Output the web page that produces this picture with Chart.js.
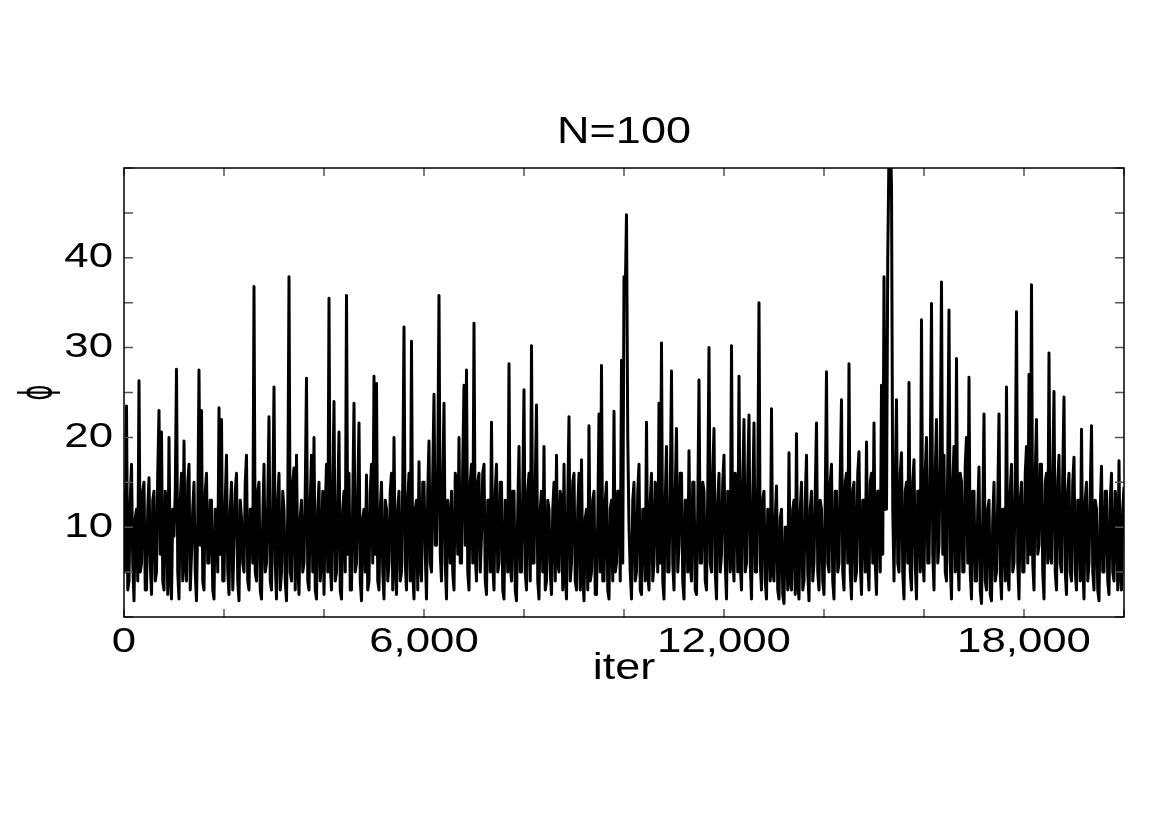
<!DOCTYPE html>
<html>
<head>
<meta charset="utf-8">
<title>N=100</title>
<script src="https://cdn.jsdelivr.net/npm/chart.js@4.4.1/dist/chart.umd.min.js"></script>
<style>
    html, body { margin: 0; padding: 0; background: #fff; }
    canvas { display: block; }
</style>
</head>
<body>
<canvas id="chart" width="1170" height="827"></canvas>
<script>
const ITER_STEP = 25;
const phi = [
    14, 5, 23.5, 3, 4, 13, 17, 6, 1.8, 11, 12, 4, 26.3, 5, 6, 14, 15, 3, 3, 12,
    15.5, 6, 2.5, 13, 14, 4, 5, 16, 23, 7, 20.6, 4, 3, 14, 13, 2.5, 20, 5, 2, 12,
    9, 14, 27.6, 5, 2, 13, 16, 4, 19.6, 6, 4, 15, 17, 3, 7, 12, 15, 5, 1.8, 11,
    27.5, 8, 23, 4, 3, 14, 16, 6, 6, 13, 13, 3, 2, 12, 12, 5, 23.3, 7, 22, 4,
    4, 13, 18, 5, 2.5, 12, 15, 3, 8, 14, 16, 4, 1.8, 13, 11, 6, 5, 15, 18, 4,
    3, 12, 12, 6, 36.8, 5, 4, 14, 15, 3, 2, 11, 17, 5, 6, 13, 22.3, 4, 3, 12,
    25.6, 6, 2, 13, 16, 3, 5, 14, 12, 4, 1.8, 12, 37.9, 5, 4, 15, 16.6, 3, 18, 6,
    2.5, 11, 13, 5, 6, 14, 26.6, 4, 3, 13, 18, 5, 20, 3, 2, 12, 15, 4, 7, 14,
    2.5, 12, 17, 5, 35.5, 6, 3, 14, 24, 4, 5, 13, 20.6, 3, 2, 12, 14, 5, 35.8, 7,
    16, 3, 3, 13, 23.8, 5, 6, 14, 21.6, 4, 1.8, 11, 12, 5, 15.8, 3, 4, 14, 17, 6,
    26.8, 7, 26, 4, 3, 12, 15, 5, 2, 13, 12, 4, 6, 14, 16, 3, 20, 6, 2.5, 12,
    14, 4, 5, 15, 32.3, 6, 3, 13, 16, 4, 30.7, 5, 2, 12, 13, 3, 17.3, 6, 4, 15,
    15, 7, 2, 14, 19.6, 6, 5, 16, 24.8, 8, 8, 17, 35.8, 7, 4, 15, 23.8, 6, 2, 13,
    11, 6, 14, 5, 3, 16, 15, 7, 20, 6, 6, 17, 25.8, 8, 27.5, 5, 3, 15, 17, 6,
    32.7, 7, 4, 15, 16, 5, 9, 16, 17, 4, 2.5, 13, 13, 5, 21.7, 6, 3, 14, 17, 5,
    6, 15, 15, 3, 2, 13, 11, 5, 28.2, 6, 4, 14, 14, 3, 1.8, 12, 19, 5, 5, 14,
    25.3, 5, 3, 14, 16, 4, 30.2, 6, 6, 15, 23.6, 4, 2, 12, 14, 5, 19, 3, 4, 13,
    12, 5, 2.5, 12, 15, 4, 18, 6, 5, 14, 13, 3, 17, 5, 2, 13, 22.3, 4, 6, 15,
    16, 4, 3, 12, 16, 3, 17.5, 5, 1.8, 11, 12, 3, 21.3, 4, 5, 13, 14, 2.5, 2.5, 11,
    22.6, 5, 28, 4, 4, 13, 15, 3, 2, 12, 13, 4, 22.9, 5, 6, 14, 14, 4, 28.6, 6,
    37.9, 36, 44.8, 20, 10, 5, 2, 13, 15, 4, 5, 14, 17, 3, 2.5, 12, 12, 4, 21.7, 5,
    3, 13, 16, 4, 6, 15, 13, 5, 23.8, 6, 30.5, 4, 2, 13, 19, 5, 5, 14, 27.4, 6,
    3, 14, 21, 5, 8, 16, 16, 4, 2, 13, 13, 5, 18.5, 6, 4, 15, 15, 3, 2.5, 12,
    26.4, 6, 6, 15, 14, 4, 3, 14, 30, 6, 5, 16, 21, 5, 2, 13, 16, 5, 7, 15,
    18, 6, 2, 14, 12, 5, 30.2, 7, 4, 16, 15, 5, 26.8, 6, 3, 15, 22, 5, 6, 16,
    22.5, 6, 2, 13, 21.6, 5, 5, 15, 35, 6, 3, 13, 14, 4, 2, 12, 11, 4, 23.2, 5,
    4, 11, 14.6, 3, 2, 11, 12, 2.5, 1.5, 10, 10, 3, 18.3, 4, 3, 12, 13, 2.5, 20.4, 4,
    2, 12, 15, 3, 4, 13, 18, 5, 1.8, 12, 14, 4, 6, 14, 21.6, 5, 3, 13, 12, 4,
    2.5, 13, 27.3, 6, 5, 15, 17, 4, 2, 14, 14, 5, 6, 16, 24.2, 5, 3, 15, 16, 6,
    28.2, 5, 2, 14, 15, 4, 5, 16, 18.4, 6, 2.5, 13, 13, 5, 19.5, 6, 3, 15, 16, 6,
    21.6, 6, 2.5, 14, 14, 5, 25.8, 7, 37.9, 12, 12, 40, 52, 54, 48, 12, 4, 15, 24.2, 6,
    5, 16, 18.3, 5, 2, 14, 15, 6, 26.1, 5, 3, 15, 17.5, 6, 2, 14, 14, 5, 33.1, 7,
    4, 16, 20, 6, 6, 17, 34.9, 7, 3, 16, 22, 6, 8, 18, 37.3, 7, 18, 5, 4, 17,
    34.2, 6, 2, 15, 19, 5, 28.8, 7, 3, 16, 15, 5, 5, 17, 20, 6, 26.7, 5, 2, 14,
    14, 4, 4, 12, 16.7, 3, 1.5, 11, 22.6, 4, 3, 12, 13, 2.5, 1.8, 11, 15, 4, 5, 13,
    22.6, 5, 2, 12, 12, 4, 25.6, 5, 3, 14, 17, 5, 6, 15, 34, 6, 2, 13, 15, 5,
    5, 16, 19, 6, 27, 7, 37, 6, 3, 16, 22, 7, 8, 17, 17, 5, 2, 15, 16, 6,
    29.4, 7, 6, 16, 25.1, 5, 3, 15, 18, 6, 5, 16, 24.5, 5, 2.5, 14, 16, 5, 4, 15,
    17.8, 5, 3, 13, 13, 4, 20.9, 6, 2, 13, 15, 4, 6, 14, 21.3, 5, 3, 13, 12, 3,
    1.8, 12, 16.8, 5, 5, 14, 14, 4, 2.5, 13, 16, 5, 4, 14, 12, 3, 17.4, 5, 3, 12,
    14.5
];

const xLabelTicks = [0, 6000, 12000, 18000];
const yLabelTicks = [10, 20, 30, 40];

const TITLE = 'N=100';
const X_TITLE = 'iter';
const Y_TITLE = '\u03D5';

const FONT = "'Liberation Sans', Arial, sans-serif";
const TEXT_STRETCH = 1.25;   // the original export has wide lettering
const PHI_STRETCH = 0.55;
const TICK_COLOR = '#555';

// widen text horizontally (around its anchor) like the reference
const wideText = {
    id: 'wideText',
    beforeInit(chart) {
        const ctx = chart.ctx;
        const fill = ctx.fillText.bind(ctx);
        ctx.fillText = (text, x, y) => {
            ctx.save();
            ctx.translate(x, y);
            ctx.scale(text === Y_TITLE ? PHI_STRETCH : TEXT_STRETCH, 1);
            fill(text, 0, 0);
            ctx.restore();
        };
    }
};

// inward tick marks on all four sides plus the box
const frame = {
    id: 'frame',
    afterDraw(chart) {
        const { ctx, chartArea: a, scales: { x, y } } = chart;
        ctx.save();
        ctx.strokeStyle = TICK_COLOR;
        ctx.lineWidth = 1.5;
        ctx.beginPath();
        x.ticks.forEach(t => {
            const px = x.getPixelForValue(t.value);
            ctx.moveTo(px, a.bottom);
            ctx.lineTo(px, a.bottom - 8);
            ctx.moveTo(px, a.top);
            ctx.lineTo(px, a.top + 8);
        });
        y.ticks.forEach(t => {
            const py = y.getPixelForValue(t.value);
            ctx.moveTo(a.left, py);
            ctx.lineTo(a.left + 9, py);
            ctx.moveTo(a.right, py);
            ctx.lineTo(a.right - 9, py);
        });
        ctx.stroke();
        ctx.strokeStyle = '#000';
        ctx.lineWidth = 1.5;
        ctx.strokeRect(a.left, a.top, a.width, a.height);
        ctx.restore();
    }
};

const ctx = document.getElementById('chart').getContext('2d');

new Chart(ctx, {
    type: 'line',
    data: {
        datasets: [{
            data: phi.map((v, i) => ({ x: i * ITER_STEP, y: v })),
            borderColor: '#000',
            borderWidth: 3,
            borderJoinStyle: 'round',
            pointRadius: 0,
            tension: 0,
            fill: false,
            clip: 0
        }]
    },
    options: {
        responsive: false,
        animation: false,
        events: [],
        layout: { padding: { top: 0, right: 46, bottom: 0, left: 0 } },
        plugins: {
            legend: { display: false },
            tooltip: { enabled: false },
            title: { display: false }
        },
        scales: {
            x: {
                type: 'linear',
                min: 0,
                max: 20000,
                ticks: {
                    stepSize: 2000,
                    autoSkip: false,
                    maxRotation: 0,
                    padding: 4,
                    color: '#000',
                    font: { family: FONT, size: 35 },
                    callback: (v) => xLabelTicks.includes(v) ? v.toLocaleString('en-US') : ''
                },
                grid: { display: false, drawTicks: false },
                border: { display: false },
                title: {
                    display: true,
                    text: X_TITLE,
                    color: '#000',
                    font: { family: FONT, size: 36 },
                    padding: { top: 0, bottom: 136 }
                },
                afterFit: (scale) => { scale.height = 210; }
            },
            xTop: {
                type: 'linear',
                position: 'top',
                min: 0,
                max: 20000,
                ticks: { display: false },
                grid: { display: false, drawTicks: false },
                border: { display: false },
                title: {
                    display: true,
                    text: TITLE,
                    color: '#000',
                    font: { family: FONT, size: 36 },
                    padding: { top: 111, bottom: 0 }
                },
                afterFit: (scale) => { scale.height = 168; }
            },
            y: {
                type: 'linear',
                min: 0,
                max: 50,
                ticks: {
                    stepSize: 5,
                    autoSkip: false,
                    padding: 11,
                    color: '#000',
                    font: { family: FONT, size: 35 },
                    callback: (v) => yLabelTicks.includes(v) ? String(v) : ''
                },
                grid: { display: false, drawTicks: false },
                border: { display: false },
                title: {
                    display: true,
                    text: Y_TITLE,
                    color: '#000',
                    font: { family: "'DejaVu Sans', sans-serif", size: 44 },
                    padding: { top: 13, bottom: 0 }
                },
                afterFit: (scale) => { scale.width = 124; }
            }
        }
    },
    plugins: [wideText, frame]
});
</script>
</body>
</html>
